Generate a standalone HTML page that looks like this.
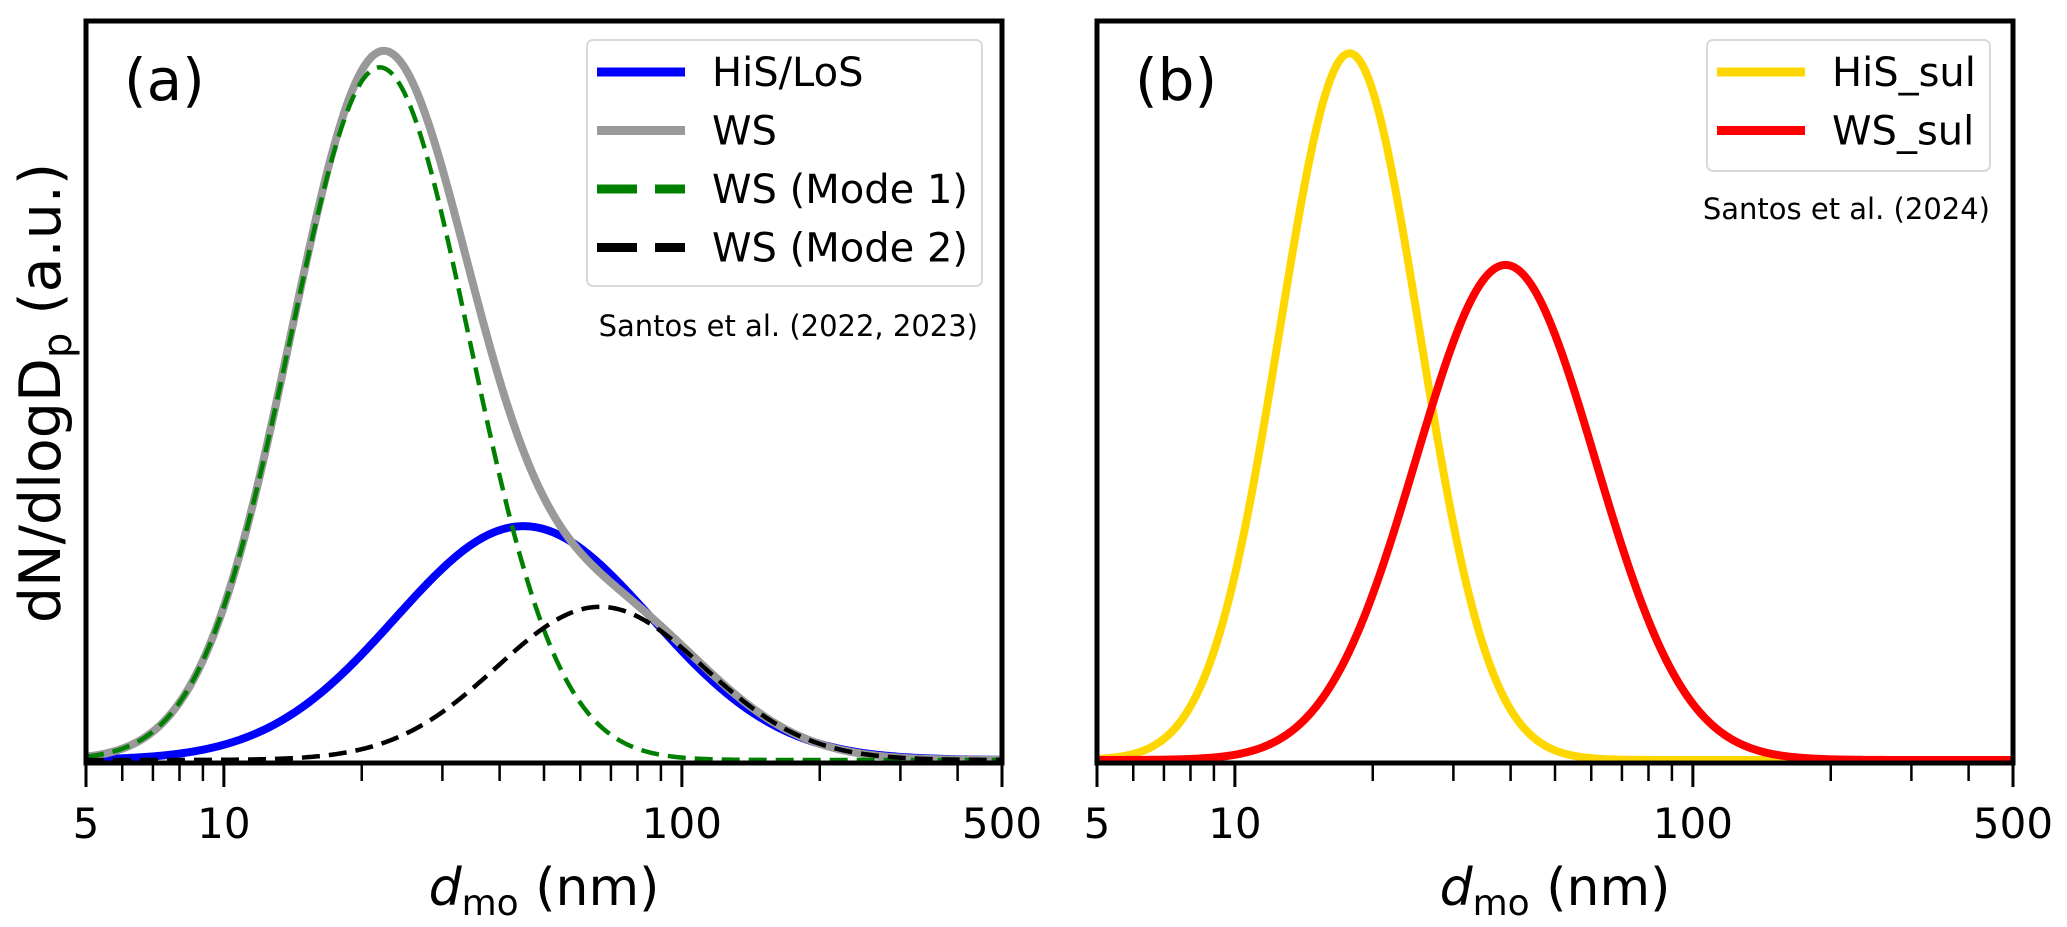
<!DOCTYPE html>
<html><head><meta charset="utf-8">
<style>
html,body{margin:0;padding:0;background:#fff;}
svg{display:block;font-family:"DejaVu Sans","Liberation Sans",sans-serif;}
</style></head>
<body>
<svg id="fig" width="2067" height="927" viewBox="0 0 2067 927" xmlns="http://www.w3.org/2000/svg">
  <rect width="2067" height="927" fill="#fff"/>
  <g id="panelA"></g>
  <g id="panelB"></g>
  <text transform="translate(60,393) rotate(-90)" text-anchor="middle" font-size="57">dN/dlogD<tspan font-size="40" dy="11">p</tspan><tspan dy="-11"> (a.u.)</tspan></text>
</svg>
<script>
// ---- data: lognormal mode parameters (median diameter nm, geometric log10 sd, peak amplitude a.u.) ----
const tickValues = [5, 10, 100, 500];
const tickLabels = ["5", "10", "100", "500"];
const minorTicks = [6, 7, 8, 9, 20, 30, 40, 50, 60, 70, 80, 90, 200, 300, 400];
const panelAModeDiam = [45.1, 21.9, 66.3];
const panelAModeSigma = [0.28, 0.196, 0.226];
const panelAModeAmp = [0.316, 0.936, 0.207];
const panelBModeDiam = [17.8, 39.0];
const panelBModeSigma = [0.153, 0.196];
const panelBModeAmp = [0.955, 0.669];

const NS = "http://www.w3.org/2000/svg";
function mk(tag, attrs, parent) {
  const e = document.createElementNS(NS, tag);
  for (const k in attrs) e.setAttribute(k, attrs[k]);
  parent.appendChild(e);
  return e;
}
const TOP = 21, BASE = 763, Y0 = 760, YH = 740;
function makeX(left, right) {
  const l0 = Math.log10(5), l1 = Math.log10(500);
  return d => left + (Math.log10(d) - l0) / (l1 - l0) * (right - left);
}
const yS = v => Y0 - v * YH;
function mode(d, i, D, S, A) {
  const z = (Math.log10(d) - Math.log10(D[i])) / S[i];
  return A[i] * Math.exp(-0.5 * z * z);
}
function curvePath(x, fn) {
  let p = "";
  for (let k = 0; k <= 500; k++) {
    const d = Math.pow(10, Math.log10(5) + k / 500 * 2);
    p += (k ? "L" : "M") + x(d).toFixed(2) + "," + yS(fn(d)).toFixed(2);
  }
  return p;
}
function axes(g, left, right, label) {
  const x = makeX(left, right);
  tickValues.forEach((v, i) => {
    const t = mk("line", {x1: x(v), x2: x(v), y1: BASE, y2: BASE + 24, stroke: "#000", "stroke-width": 3}, g);
    
    
    const tl = mk("text", {x: x(v), y: 838, "text-anchor": "middle", "font-size": 42}, g);
    tl.textContent = tickLabels[i];
    
    
  });
  minorTicks.forEach(v => {
    const t = mk("line", {x1: x(v), x2: x(v), y1: BASE, y2: BASE + 18, stroke: "#000", "stroke-width": 2.5}, g);
    
    
  });
  const xt = mk("text", {x: (left + right) / 2, y: 905, "text-anchor": "middle", "font-size": 52}, g);
  xt.innerHTML = '<tspan font-style="italic">d</tspan><tspan font-size="36" dy="10">mo</tspan><tspan dy="-10"> (nm)</tspan>';
  
  
  const pl = mk("text", {x: left + 38, y: 100, "font-size": 58}, g);
  pl.textContent = label;
  
  
  return x;
}
function frame(g, left, right) {
  const f = mk("rect", {x: left, y: TOP, width: right - left, height: BASE - TOP, fill: "none", stroke: "#000", "stroke-width": 5}, g);
  
  
}
function line(g, x, fn, color, w, dash, name) {
  const a = {d: curvePath(x, fn), fill: "none", stroke: color, "stroke-width": w, "stroke-linejoin": "round"};
  if (dash) a["stroke-dasharray"] = dash;
  const p = mk("path", a, g);
  
  
}
function legend(g, x0, y0, w, h, entries) {
  const box = mk("rect", {x: x0, y: y0, width: w, height: h, rx: 6, fill: "#fff", "fill-opacity": 0.8, stroke: "#d9d9d9", "stroke-width": 2}, g);
  
  
  entries.forEach((e, i) => {
    const yy = y0 + 32 + i * 58.5;
    const a = {x1: x0 + 10, x2: x0 + 98, y1: yy, y2: yy, stroke: e[1], "stroke-width": 9};
    if (e[2]) a["stroke-dasharray"] = "40,18";
    const l = mk("line", a, g);
    
    
    const t = mk("text", {x: x0 + 125, y: yy + 14, "font-size": 40}, g);
    t.textContent = e[0];
    
    
  });
}
// Panel A
const gA = document.getElementById("panelA");
const xA = axes(gA, 86, 1002, "(a)");
const fA = i => d => mode(d, i, panelAModeDiam, panelAModeSigma, panelAModeAmp);
line(gA, xA, fA(0), "#0000ff", 8, null, "his-los-line");
line(gA, xA, d => fA(1)(d) + fA(2)(d), "#999999", 8, null, "ws-line");
line(gA, xA, fA(1), "#008000", 4.5, "18,9", "ws-mode1-line");
line(gA, xA, fA(2), "#000000", 4.5, "18,9", "ws-mode2-line");
frame(gA, 86, 1002);
legend(gA, 587, 40, 395, 246, [["HiS/LoS", "#0000ff", false], ["WS", "#999999", false], ["WS (Mode 1)", "#008000", true], ["WS (Mode 2)", "#000000", true]]);
const nA = mk("text", {x: 978, y: 336, "text-anchor": "end", "font-size": 29}, gA);
nA.textContent = "Santos et al. (2022, 2023)";


// Panel B
const gB = document.getElementById("panelB");
const xB = axes(gB, 1097, 2013, "(b)");
const fB = i => d => mode(d, i, panelBModeDiam, panelBModeSigma, panelBModeAmp);
line(gB, xB, fB(0), "#ffd700", 8, null, "his-sul-line");
line(gB, xB, fB(1), "#ff0000", 8, null, "ws-sul-line");
frame(gB, 1097, 2013);
legend(gB, 1707, 40, 283, 131, [["HiS_sul", "#ffd700", false], ["WS_sul", "#ff0000", false]]);
const nB = mk("text", {x: 1990, y: 219, "text-anchor": "end", "font-size": 29}, gB);
nB.textContent = "Santos et al. (2024)";


</script>
</body></html>
